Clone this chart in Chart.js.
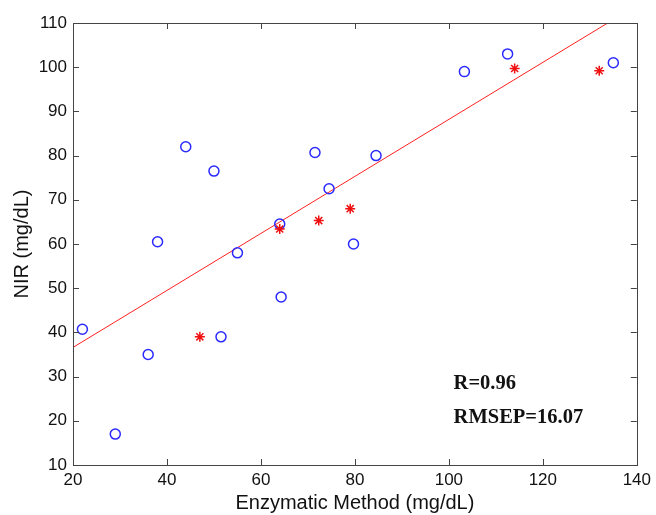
<!DOCTYPE html>
<html>
<head>
<meta charset="utf-8">
<script src="https://cdn.jsdelivr.net/npm/chart.js@4"></script>
<style>
    html, body { margin: 0; padding: 0; background: #fff; }
    #wrap { width: 656px; height: 515px; }
</style>
</head>
<body>
<div id="wrap"><canvas id="nir-chart" width="656" height="515"></canvas></div>
<script>
// calibration samples (blue circles)
const calX = [22, 29, 36, 38, 44, 50, 51.5, 55, 64, 64.3, 71.5, 74.5, 79.7, 84.5, 103.3, 112.5, 135];
const calY = [40.7, 17, 35, 60.5, 82, 76.5, 39, 58, 64.5, 48, 80.7, 72.5, 60, 80, 99, 103, 101];

// prediction samples (red stars)
const predX = [47, 64, 72.3, 79, 114, 132];
const predY = [39, 63.4, 65.3, 68, 99.7, 99.2];

// fitted line end points
const fitX = [20, 133.8];
const fitY = [36.6, 110];

const xTicks = [20, 40, 60, 80, 100, 120, 140];
const yTicks = [10, 20, 30, 40, 50, 60, 70, 80, 90, 100, 110];

const statLabels = ["R=0.96", "RMSEP=16.07"];
const statX = [101, 101];
const statY = [28.3, 20.6];

function toPoints(xs, ys) {
    return xs.map((x, i) => ({ x: x, y: ys[i] }));
}

const tickFont = { family: "'Liberation Sans', Arial, sans-serif", size: 17 };
const titleFont = { family: "'Liberation Sans', Arial, sans-serif", size: 20 };

// box round the plot with inward tick marks, plus the two stat texts
const boxPlugin = {
    id: "boxPlugin",
    afterDraw(chart) {
        const ctx = chart.ctx;
        const a = chart.chartArea;
        const xs = chart.scales.x;
        const ys = chart.scales.y;
        ctx.save();
        ctx.strokeStyle = "#444";
        ctx.lineWidth = 1;
        ctx.strokeRect(Math.round(a.left) + 0.5, Math.round(a.top) + 0.5,
            Math.round(a.right - a.left), Math.round(a.bottom - a.top));
        ctx.beginPath();
        xTicks.forEach(v => {
            const px = Math.round(xs.getPixelForValue(v)) + 0.5;
            ctx.moveTo(px, a.bottom);
            ctx.lineTo(px, a.bottom - 6);
            ctx.moveTo(px, a.top);
            ctx.lineTo(px, a.top + 6);
        });
        yTicks.forEach(v => {
            const py = Math.round(ys.getPixelForValue(v)) + 0.5;
            ctx.moveTo(a.left, py);
            ctx.lineTo(a.left + 6, py);
            ctx.moveTo(a.right, py);
            ctx.lineTo(a.right - 6, py);
        });
        ctx.stroke();

        ctx.fillStyle = "#111";
        ctx.font = "bold 20.5px 'Liberation Serif', 'Times New Roman', serif";
        ctx.textAlign = "left";
        ctx.textBaseline = "middle";
        statLabels.forEach((t, i) => {
            ctx.fillText(t, xs.getPixelForValue(statX[i]), ys.getPixelForValue(statY[i]));
        });
        ctx.restore();
    }
};

let nirChart;

function createNirChart() {
    const canvas = document.getElementById("nir-chart");
    nirChart = new Chart(canvas.getContext("2d"), {
        type: "scatter",
        data: {
            datasets: [
                {
                    label: "Fit",
                    type: "line",
                    data: toPoints(fitX, fitY),
                    borderColor: "#ff2020",
                    borderWidth: 1,
                    pointRadius: 0,
                    fill: false,
                    order: 3
                },
                {
                    label: "Calibration",
                    data: toPoints(calX, calY),
                    pointStyle: "circle",
                    pointRadius: 5,
                    borderColor: "#2a2aff",
                    backgroundColor: "rgba(0,0,0,0)",
                    pointBorderWidth: 1.5,
                    order: 2
                },
                {
                    label: "Prediction",
                    data: toPoints(predX, predY),
                    pointStyle: "star",
                    pointRadius: 5,
                    borderColor: "#f01010",
                    backgroundColor: "#f01010",
                    pointBorderWidth: 1.5,
                    order: 1
                }
            ]
        },
        options: {
            responsive: false,
            animation: false,
            layout: {
                padding: { top: 23, right: 14, left: 0, bottom: 0 }
            },
            plugins: {
                legend: { display: false },
                tooltip: { enabled: false }
            },
            scales: {
                x: {
                    type: "linear",
                    min: 20,
                    max: 140,
                    afterBuildTicks: (s) => { s.ticks = xTicks.map(v => ({ value: v })); },
                    afterFit: (s) => { s.height = 50; },
                    grid: { display: false, drawTicks: false },
                    border: { display: false },
                    ticks: { color: "#111", font: tickFont, padding: 5, maxRotation: 0 },
                    title: {
                        display: true,
                        text: "Enzymatic Method (mg/dL)",
                        color: "#111",
                        font: titleFont,
                        padding: { top: 0, bottom: 0 }
                    }
                },
                y: {
                    type: "linear",
                    min: 10,
                    max: 110,
                    afterBuildTicks: (s) => { s.ticks = yTicks.map(v => ({ value: v })); },
                    afterFit: (s) => { s.width = 73; },
                    grid: { display: false, drawTicks: false },
                    border: { display: false },
                    ticks: { color: "#111", font: tickFont, padding: 6 },
                    title: {
                        display: true,
                        text: "NIR (mg/dL)",
                        color: "#111",
                        font: titleFont,
                        padding: { top: 10, bottom: 0 }
                    }
                }
            }
        },
        plugins: [boxPlugin]
    });
}

createNirChart();
</script>
</body>
</html>
